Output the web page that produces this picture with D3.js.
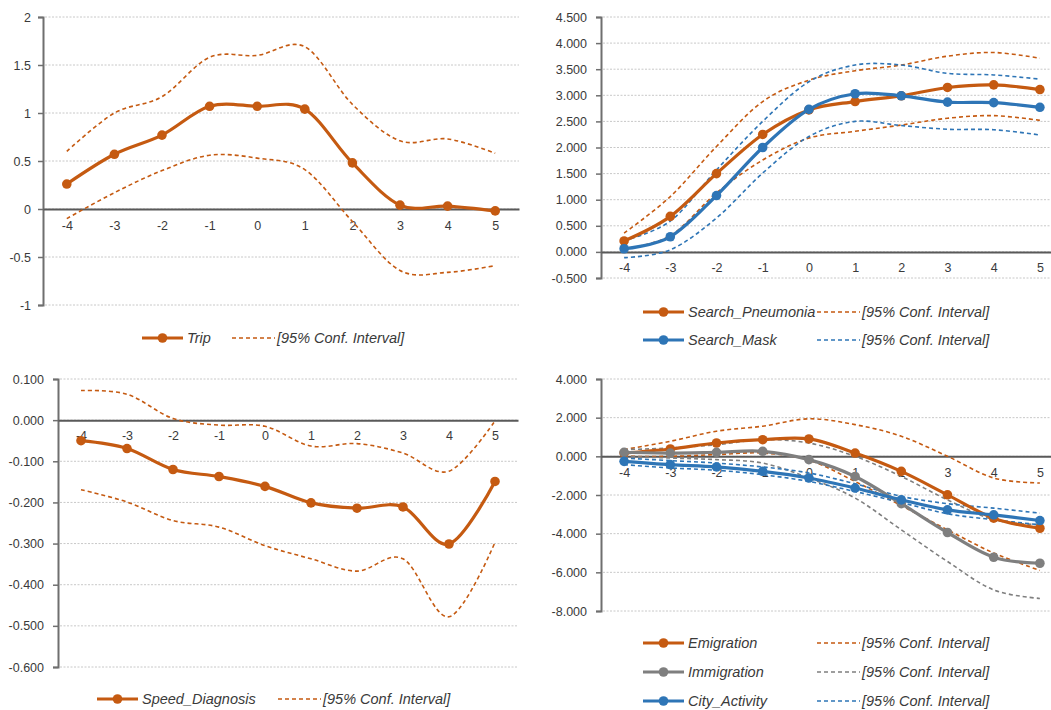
<!DOCTYPE html>
<html><head><meta charset="utf-8">
<script src="https://cdn.jsdelivr.net/npm/d3@7"></script>
<style>
body{margin:0;background:#fff;}
svg{display:block;font-family:"Liberation Sans",Arial,sans-serif;}
</style></head>
<body><svg id="c" width="1051" height="710"></svg>
<script>
// ---------- DATA ----------
const periods = [-4,-3,-2,-1,0,1,2,3,4,5];

// Panel 1: Trip
const tripValues = [0.26,0.57,0.77,1.07,1.07,1.04,0.48,0.04,0.03,-0.02];
const tripUpper  = [0.60,1.00,1.17,1.58,1.60,1.69,1.09,0.71,0.73,0.58];
const tripLower  = [-0.10,0.17,0.40,0.56,0.53,0.41,-0.13,-0.64,-0.66,-0.59];
const tripTicks  = [2,1.5,1,0.5,0,-0.5,-1];

// Panel 2: Search
const pneumoniaValues = [0.21,0.68,1.50,2.25,2.72,2.88,2.99,3.15,3.20,3.11];
const pneumoniaUpper  = [0.36,1.06,2.02,2.88,3.29,3.47,3.58,3.75,3.82,3.71];
const pneumoniaLower  = [0.06,0.31,1.13,1.76,2.18,2.31,2.43,2.56,2.61,2.52];
const maskValues = [0.06,0.29,1.08,2.00,2.73,3.03,2.99,2.87,2.86,2.77];
const maskUpper  = [0.22,0.59,1.57,2.50,3.26,3.58,3.58,3.42,3.39,3.31];
const maskLower  = [-0.11,0.04,0.65,1.51,2.21,2.50,2.42,2.35,2.34,2.24];
const searchTicks = [4.5,4,3.5,3,2.5,2,1.5,1,0.5,0,-0.5];

// Panel 3: Speed_Diagnosis
const speedValues = [-0.050,-0.069,-0.120,-0.137,-0.161,-0.201,-0.214,-0.211,-0.301,-0.149];
const speedUpper  = [0.072,0.063,0.004,-0.012,-0.015,-0.063,-0.057,-0.080,-0.124,-0.002];
const speedLower  = [-0.169,-0.199,-0.244,-0.260,-0.305,-0.337,-0.367,-0.337,-0.478,-0.297];
const speedTicks  = [0.1,0,-0.1,-0.2,-0.3,-0.4,-0.5,-0.6];

// Panel 4: Migration / activity
const emigrationValues = [0.17,0.38,0.69,0.86,0.90,0.17,-0.78,-1.99,-3.20,-3.72];
const emigrationUpper  = [0.35,0.78,1.30,1.56,1.94,1.64,1.04,0.00,-1.12,-1.38];
const emigrationLower  = [0.00,0.00,0.09,0.17,-0.20,-1.30,-2.55,-3.80,-5.00,-5.90];
const immigrationValues = [0.21,0.17,0.21,0.26,-0.17,-1.04,-2.45,-3.94,-5.22,-5.53];
const immigrationUpper  = [0.35,0.43,0.60,0.86,0.69,0.00,-1.04,-2.25,-3.28,-3.54];
const immigrationLower  = [0.00,-0.09,-0.17,-0.35,-1.12,-2.16,-3.80,-5.44,-6.91,-7.35];
const cityValues = [-0.26,-0.43,-0.55,-0.78,-1.12,-1.64,-2.25,-2.77,-3.03,-3.32];
const cityUpper  = [-0.09,-0.22,-0.35,-0.55,-0.86,-1.42,-2.07,-2.45,-2.68,-2.94];
const cityLower  = [-0.43,-0.60,-0.72,-0.95,-1.30,-1.82,-2.39,-2.97,-3.28,-3.54];
const migrationTicks = [4,2,0,-2,-4,-6,-8];

const ciLabel = "[95% Conf. Interval]";

// ---------- STYLE ----------
const ORANGE = "#C55A11", BLUE = "#2E75B6", GRAY = "#7F7F7F";
const svg = d3.select("#c");
const curve = d3.curveCatmullRom.alpha(0);

function panel(cfg){
  const g = svg.append("g");
  const x = d3.scalePoint().domain(periods).range([cfg.x0, cfg.x1]).padding(0.5);
  const y = d3.scaleLinear().domain([cfg.ticks[cfg.ticks.length-1], cfg.ticks[0]]).range([cfg.yb, cfg.yt]);

  // gridlines
  g.append("g").selectAll("line").data(cfg.ticks).join("line")
    .attr("x1", cfg.x0+2).attr("x2", cfg.x1)
    .attr("y1", d=>y(d)).attr("y2", d=>y(d))
    .attr("stroke", "#c8c8c8").attr("stroke-width", 1).attr("stroke-dasharray", "2,1.5");

  // y axis
  const ya = g.append("g").attr("transform", `translate(${cfg.x0},0)`)
    .call(d3.axisLeft(y).tickValues(cfg.ticks).tickFormat(cfg.fmt).tickSize(5).tickPadding(cfg.pad));
  ya.select(".domain").attr("stroke", "#6f6f6f").attr("stroke-width", 2);
  ya.selectAll(".tick line").attr("stroke", "#6f6f6f").attr("stroke-width", 1.5);
  ya.selectAll("text").attr("fill", "#3a3a3a").attr("font-size", 12.5);

  // x axis at zero
  const xa = g.append("g").attr("transform", `translate(0,${y(0)})`)
    .call(d3.axisBottom(x).tickSize(0).tickSizeOuter(0).tickPadding(cfg.xpad).tickFormat(d=>String(d)));
  xa.select(".domain").attr("stroke", "#595959").attr("stroke-width", 2);
  xa.selectAll("text").attr("fill", "#3a3a3a").attr("font-size", 12.5);

  const line = d3.line().x((d,i)=>x(periods[i])).y(d=>y(d)).curve(curve);

  cfg.series.forEach(s=>{
    [s.upper, s.lower].forEach(arr=>{
      g.append("path").attr("d", line(arr)).attr("fill","none")
        .attr("stroke", s.color).attr("stroke-width",1.6).attr("stroke-dasharray","4,3");
    });
  });
  cfg.series.forEach(s=>{
    g.append("path").attr("d", line(s.values)).attr("fill","none")
      .attr("stroke", s.color).attr("stroke-width",3.2);
    g.append("g").selectAll("circle").data(s.values).join("circle")
      .attr("cx",(d,i)=>x(periods[i])).attr("cy",d=>y(d)).attr("r",4.8)
      .attr("fill", s.color);
  });

  // legend
  cfg.series.forEach((s,i)=>{
    const ly = cfg.legY[i];
    const L = cfg.legX;
    g.append("line").attr("x1",L[0]).attr("x2",L[0]+41).attr("y1",ly).attr("y2",ly)
      .attr("stroke", s.color).attr("stroke-width",3.2);
    g.append("circle").attr("cx",L[0]+20.5).attr("cy",ly).attr("r",4.8).attr("fill",s.color);
    g.append("text").attr("x",L[0]+45).attr("y",ly).attr("dy","0.35em")
      .attr("font-style","italic").attr("font-size",14.5).attr("fill","#3a3a3a").text(s.name);
    g.append("line").attr("x1",L[1]).attr("x2",L[1]+43).attr("y1",ly).attr("y2",ly)
      .attr("stroke", s.color).attr("stroke-width",1.6).attr("stroke-dasharray","4,3");
    g.append("text").attr("x",L[1]+45).attr("y",ly).attr("dy","0.35em")
      .attr("font-style","italic").attr("font-size",14.5).attr("fill","#3a3a3a").text(ciLabel);
  });
}

const f3 = d=>d.toFixed(3);

panel({x0:43, x1:519, yt:17, yb:305, ticks:tripTicks, fmt:d=>String(d), pad:7, xpad:12,
  legX:[142,232], legY:[338],
  series:[{name:"Trip", values:tripValues, upper:tripUpper, lower:tripLower, color:ORANGE}]});

panel({x0:601, x1:1063, yt:17, yb:278, ticks:searchTicks, fmt:f3, pad:9, xpad:11,
  legX:[643,817], legY:[312,340],
  series:[
    {name:"Search_Pneumonia", values:pneumoniaValues, upper:pneumoniaUpper, lower:pneumoniaLower, color:ORANGE},
    {name:"Search_Mask", values:maskValues, upper:maskUpper, lower:maskLower, color:BLUE}]});

panel({x0:58, x1:518, yt:379, yb:667, ticks:speedTicks, fmt:f3, pad:9, xpad:11,
  legX:[97,278], legY:[699],
  series:[{name:"Speed_Diagnosis", values:speedValues, upper:speedUpper, lower:speedLower, color:ORANGE}]});

panel({x0:601, x1:1063, yt:379, yb:611, ticks:migrationTicks, fmt:f3, pad:9, xpad:12,
  legX:[643,817], legY:[643,672,701],
  series:[
    {name:"Emigration", values:emigrationValues, upper:emigrationUpper, lower:emigrationLower, color:ORANGE},
    {name:"Immigration", values:immigrationValues, upper:immigrationUpper, lower:immigrationLower, color:GRAY},
    {name:"City_Activity", values:cityValues, upper:cityUpper, lower:cityLower, color:BLUE}]});
</script></body></html>
